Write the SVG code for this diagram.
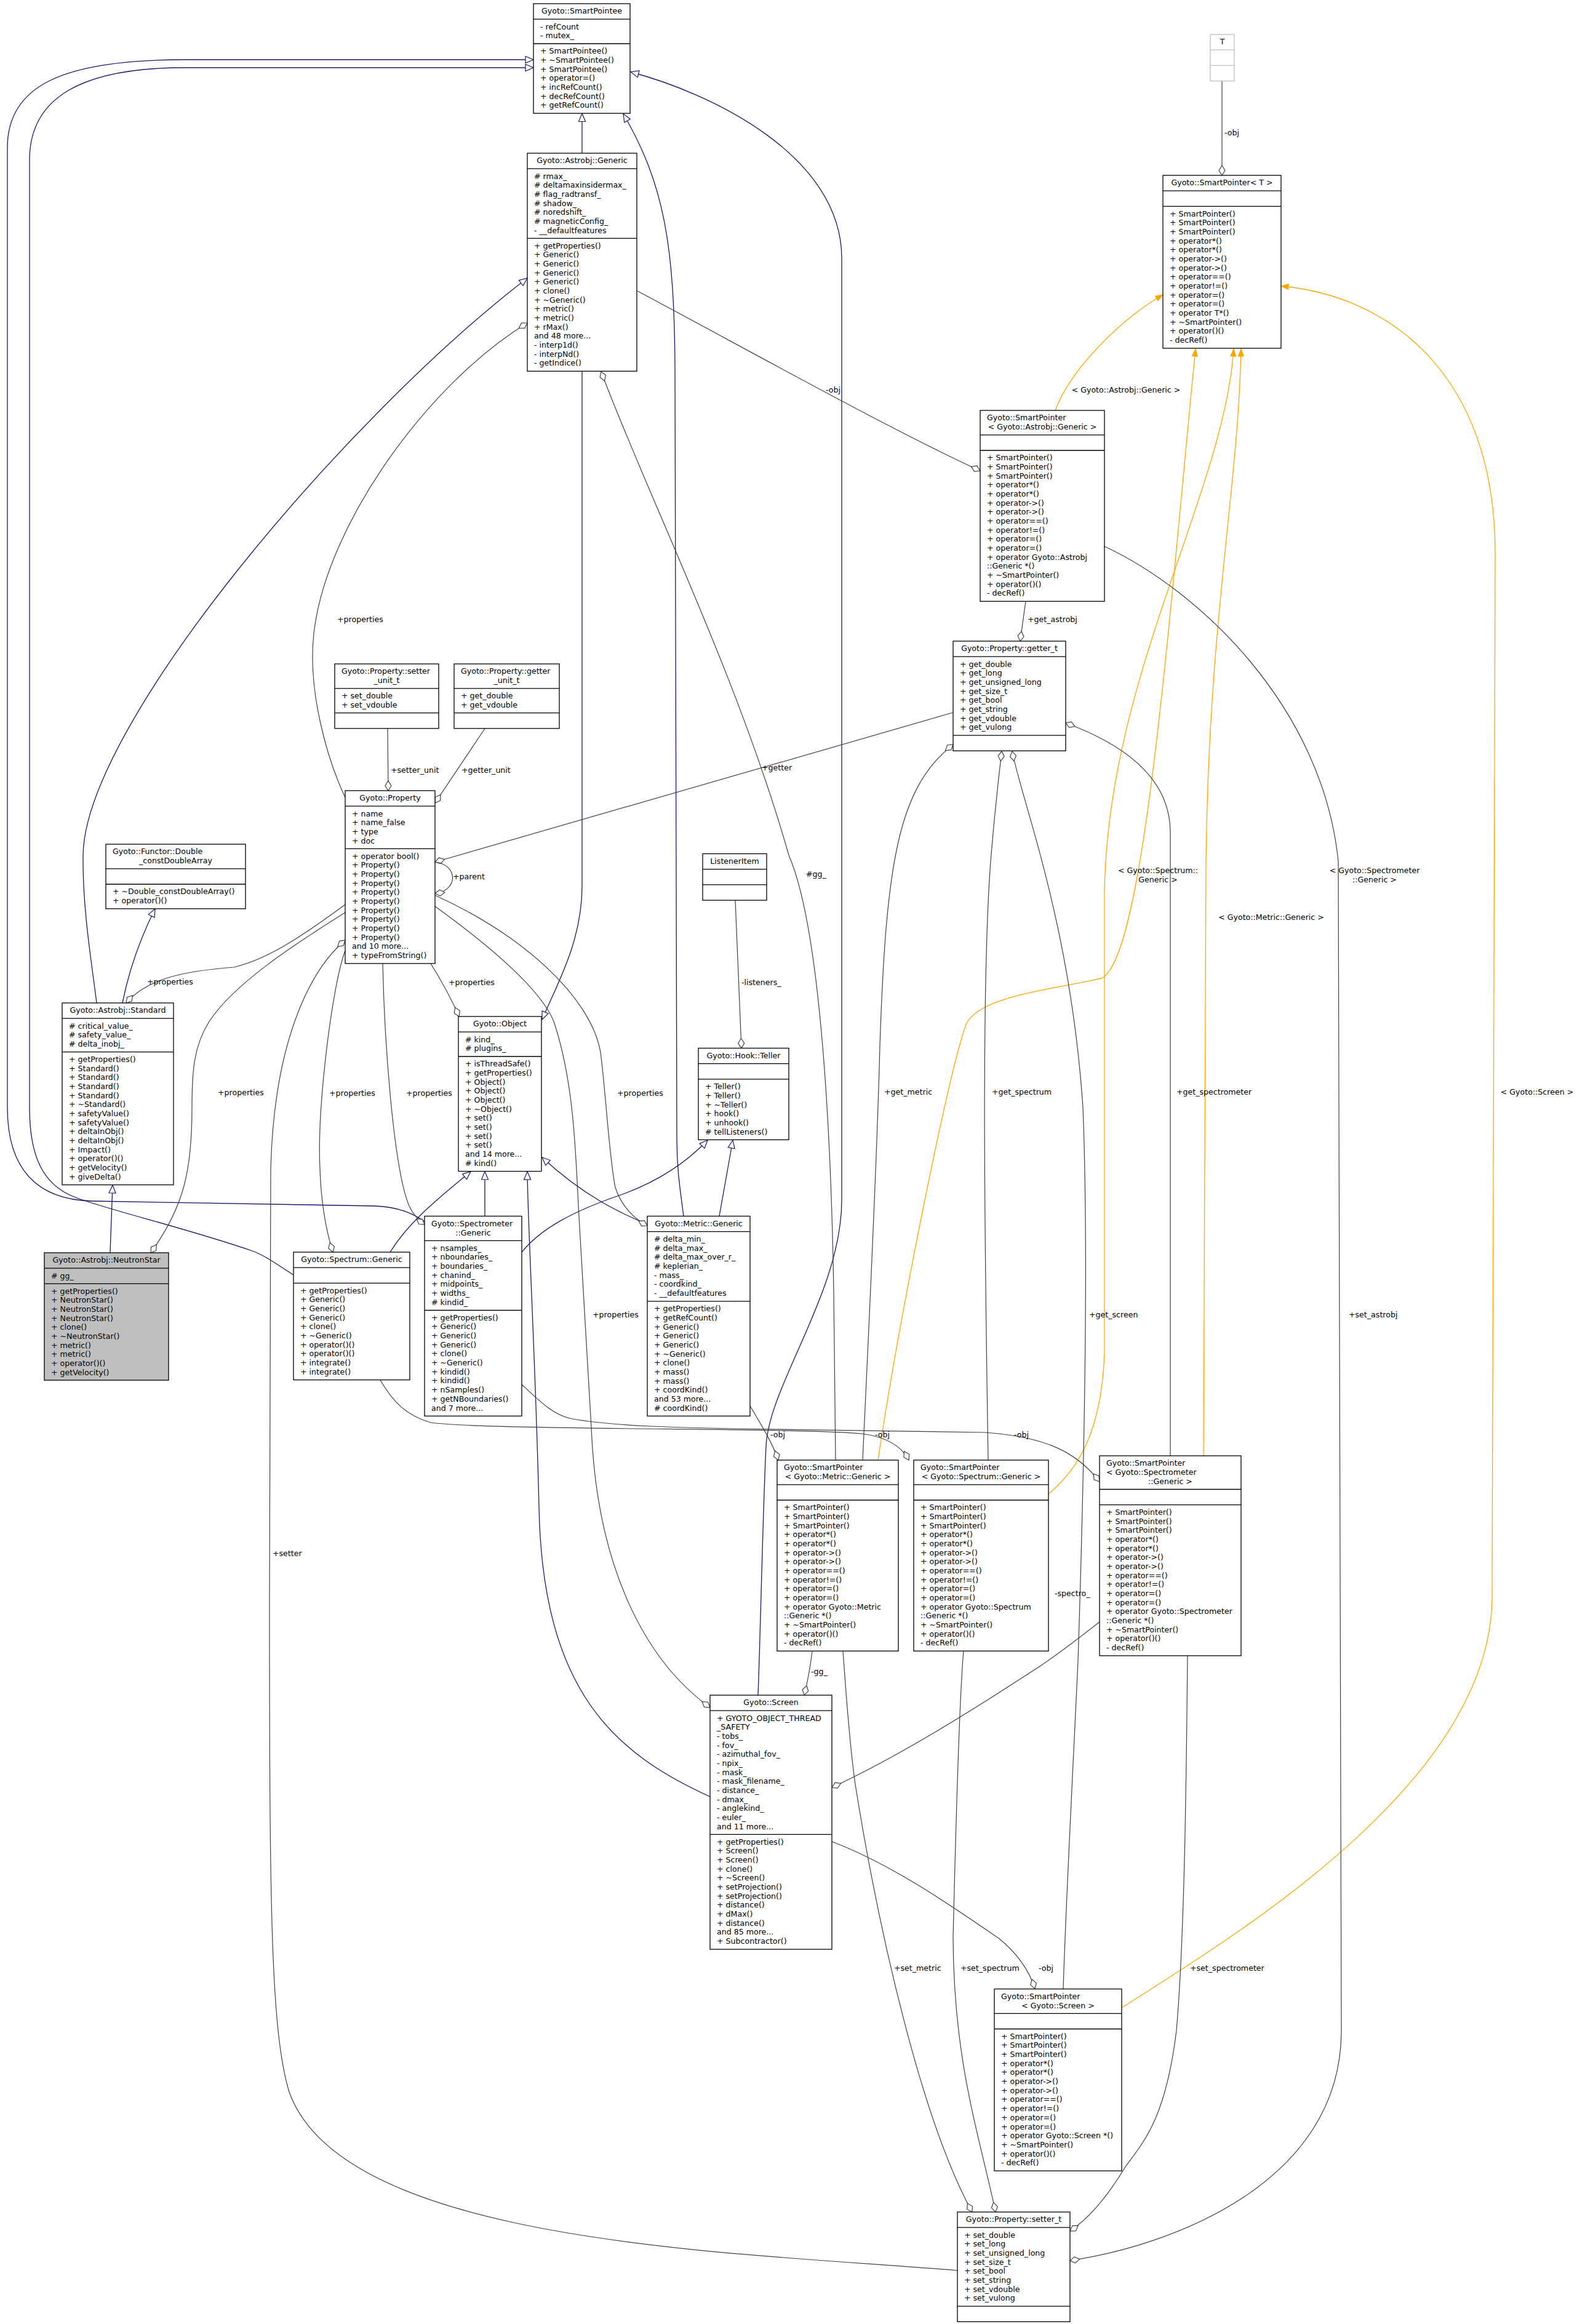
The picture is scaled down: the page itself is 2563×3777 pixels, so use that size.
<svg xmlns="http://www.w3.org/2000/svg" width="2563" height="3777" viewBox="0 0 2563 3777">
<style>
text{font-family:"DejaVu Sans",sans-serif;font-size:12.6px;fill:#000}
.c{text-anchor:middle}
.n rect{fill:#fff;stroke:#000;stroke-width:1.3}
.n line{stroke:#000;stroke-width:1.3}
.g rect{fill:#bfbfbf}
.gr rect,.gr line{stroke:#bfbfbf}
.e{fill:none;stroke:#404040;stroke-width:1.2}
.i{fill:none;stroke:#191970;stroke-width:1.3}
.t{fill:none;stroke:#ffa500;stroke-width:1.3}
</style>
<defs>
<marker id="mi" viewBox="0 0 15 13" refX="14" refY="6.5" markerWidth="15" markerHeight="13" markerUnits="userSpaceOnUse" orient="auto"><path d="M1,1 L14,6.5 L1,12 Z" fill="#fff" stroke="#191970" stroke-width="1.2"/></marker>
<marker id="ma" viewBox="0 0 18 12" refX="17" refY="6" markerWidth="18" markerHeight="12" markerUnits="userSpaceOnUse" orient="auto"><path d="M1,6 L9,1 L17,6 L9,11 Z" fill="#fff" stroke="#404040" stroke-width="1.2"/></marker>
<marker id="mt" viewBox="0 0 14 12" refX="13" refY="6" markerWidth="14" markerHeight="12" markerUnits="userSpaceOnUse" orient="auto"><path d="M1,1.5 L13,6 L1,10.5 Z" fill="#ffa500" stroke="#ffa500" stroke-width="1"/></marker>
</defs>
<rect width="2563" height="3777" fill="#fff"/>
<g id="edges">
<path class="i" marker-end="url(#mi)" d="M946,249 L946,184.5"/>
<path class="i" marker-end="url(#mi)" d="M157,1630 C150,1570 134,1480 135,1390 C137,1180 560,680 857,452"/>
<path class="i" marker-end="url(#mi)" d="M199,1630 C210,1575 228,1525 252,1477"/>
<path class="i" marker-end="url(#mi)" d="M179,2036 L183,1926"/>
<path class="i" marker-end="url(#mi)" d="M946,603 L946,1440 C946,1530 905,1600 881,1657"/>
<path class="i" marker-end="url(#mi)" d="M634,2035 C665,1985 710,1950 765,1904"/>
<path class="i" marker-end="url(#mi)" d="M788,1976.5 L788,1904"/>
<path class="i" marker-end="url(#mi)" d="M1052,1990 C1010,1972 950,1945 881,1881"/>
<path class="i" marker-end="url(#mi)" d="M1154,2920 C1000,2850 882,2750 876,2450 C870,2200 858,2000 857,1904"/>
<path class="i" marker-end="url(#mi)" d="M848,2035 C880,1995 935,1968 1000,1945 C1060,1925 1110,1895 1150,1853"/>
<path class="i" marker-end="url(#mi)" d="M1169,1976.5 L1191,1853"/>
<path class="i" marker-end="url(#mi)" d="M1111,1976.5 C1105,1930 1100,1900 1100,1850 L1097,600 C1096,400 1080,300 1013,185"/>
<path class="i" marker-end="url(#mi)" d="M1232,2755 C1236,2650 1240,2450 1245,2350 C1250,2250 1368,2100 1368,1950 L1368,420 C1368,250 1150,150 1025,117"/>
<path class="i" marker-end="url(#mi)" d="M477,2072 C450,2055 430,2040 410,2033 C300,1995 170,1965 120,1945 C70,1925 48,1880 48,1800 L48,260 C48,160 130,110 300,110 L867,110"/>
<path class="i" marker-end="url(#mi)" d="M690,1985 C670,1972 650,1962 610,1960 L150,1952 C60,1950 12,1900 12,1800 L12,240 C12,140 100,97 300,97 L867,97"/>
<path class="t" marker-end="url(#mt)" d="M1715,667 C1740,600 1820,520 1890,479"/>
<path class="t" marker-end="url(#mt)" d="M1427,2373 C1460,2150 1540,1750 1570,1665 C1590,1620 1700,1610 1790,1590 C1860,1560 1900,1000 1943,567"/>
<path class="t" marker-end="url(#mt)" d="M1704,2428 C1750,2390 1790,2330 1795,2200 L1795,1450 C1800,1100 1990,800 2005,567"/>
<path class="t" marker-end="url(#mt)" d="M1956,2366 C1960,2000 1958,1650 1960,1400 C1965,1000 2012,800 2017,567"/>
<path class="t" marker-end="url(#mt)" d="M1823,3263 C2000,3150 2420,2900 2425,2600 L2430,900 C2430,600 2250,480 2082,465"/>
<path class="e" marker-end="url(#ma)" d="M1986,131.6 L1986,285"/>
<path class="e" marker-end="url(#ma)" d="M1036,473 C1200,560 1450,700 1593,765"/>
<path class="e" marker-end="url(#ma)" d="M1667,977 L1658,1042"/>
<path class="e" marker-end="url(#ma)" d="M1549,1158 L707,1401"/>
<path class="e" marker-end="url(#ma)" d="M1556,3690 C1200,3660 560,3650 470,3400 C440,3300 438,3100 438,2600 L440,1900 C445,1700 500,1580 561,1528"/>
<path class="e" marker-end="url(#ma)" d="M630,1184 L631,1285"/>
<path class="e" marker-end="url(#ma)" d="M788,1184 L707,1305"/>
<path class="e" marker-end="url(#ma)" d="M707,1401 C745,1405 745,1448 707,1452"/>
<path class="e" marker-end="url(#ma)" d="M561,1296 C530,1230 500,1120 510,1030 C530,850 700,620 857,525"/>
<path class="e" marker-end="url(#ma)" d="M561,1470 C480,1530 430,1560 380,1572 C300,1578 240,1590 205,1630"/>
<path class="e" marker-end="url(#ma)" d="M561,1483 C470,1540 380,1600 340,1660 C315,1700 312,1740 312,1800 C312,1900 300,1960 245,2036"/>
<path class="e" marker-end="url(#ma)" d="M561,1545 C540,1600 515,1800 520,1900 C522,1960 530,2000 541,2035"/>
<path class="e" marker-end="url(#ma)" d="M622,1566 C625,1700 640,1900 665,1960 C672,1975 680,1983 690,1990"/>
<path class="e" marker-end="url(#ma)" d="M700,1566 C715,1590 730,1615 746,1652"/>
<path class="e" marker-end="url(#ma)" d="M707,1455 C850,1520 960,1620 976,1710 C985,1780 990,1880 1000,1930 C1010,1960 1030,1980 1052,1992"/>
<path class="e" marker-end="url(#ma)" d="M707,1473 C800,1540 880,1610 900,1660 C930,1750 935,1850 940,1960 L961,2320 C970,2550 1050,2700 1154,2775"/>
<path class="e" marker-end="url(#ma)" d="M1195,1463 L1205,1703.5"/>
<path class="e" marker-end="url(#ma)" d="M1358,2373 L1355,2100 C1350,1800 1330,1500 1282,1390 C1200,1100 1050,800 977,604"/>
<path class="e" marker-end="url(#ma)" d="M1219,2285 C1240,2320 1255,2345 1265,2373"/>
<path class="e" marker-end="url(#ma)" d="M618,2243 C640,2280 660,2300 700,2312 C800,2325 1300,2320 1400,2330 C1440,2335 1465,2350 1477,2373"/>
<path class="e" marker-end="url(#ma)" d="M848,2250 C880,2280 900,2300 930,2306 C1000,2318 1100,2320 1200,2322 L1600,2328 C1700,2335 1750,2360 1787,2408"/>
<path class="e" marker-end="url(#ma)" d="M1402,2373 C1410,2200 1425,1900 1430,1700 C1440,1400 1460,1280 1549,1210"/>
<path class="e" marker-end="url(#ma)" d="M1370,2683 C1375,2750 1380,2830 1390,2900 C1430,3150 1500,3450 1580,3595"/>
<path class="e" marker-end="url(#ma)" d="M1606,2373 C1600,2000 1595,1600 1610,1400 C1618,1300 1625,1250 1628,1221"/>
<path class="e" marker-end="url(#ma)" d="M1566,2683 C1560,2750 1555,2900 1549,3150 C1550,3350 1590,3464 1618,3595"/>
<path class="e" marker-end="url(#ma)" d="M1902,2366 L1902,1350 C1900,1250 1800,1200 1732,1175"/>
<path class="e" marker-end="url(#ma)" d="M1930,2691 C1928,2900 1925,3150 1912,3300 C1895,3440 1860,3480 1830,3520 C1800,3570 1770,3605 1739,3626"/>
<path class="e" marker-end="url(#ma)" d="M1728,3232 C1732,3100 1745,2850 1752,2700 C1765,2300 1768,2000 1760,1800 C1740,1500 1660,1300 1645,1221"/>
<path class="e" marker-end="url(#ma)" d="M1352,2993 C1450,3030 1550,3100 1623,3150 C1660,3180 1675,3210 1682,3232"/>
<path class="e" marker-end="url(#ma)" d="M1320,2683 C1317,2710 1312,2735 1307,2755"/>
<path class="e" marker-end="url(#ma)" d="M1787,2636 C1750,2665 1720,2688 1690,2708 C1580,2780 1460,2855 1352,2905"/>
<path class="e" marker-end="url(#ma)" d="M1795,888 C1950,960 2150,1150 2175,1400 L2180,3300 C2180,3550 1900,3650 1739,3674"/>
<text x="1990" y="220">-obj</text>
<text x="1342" y="638">-obj</text>
<text x="1670" y="1011">+get_astrobj</text>
<text x="1238" y="1252">+getter</text>
<text x="443" y="2529">+setter</text>
<text x="635" y="1256">+setter_unit</text>
<text x="750" y="1256">+getter_unit</text>
<text x="736" y="1429">+parent</text>
<text x="548" y="1011">+properties</text>
<text x="239" y="1600">+properties</text>
<text x="354" y="1780">+properties</text>
<text x="535" y="1781">+properties</text>
<text x="660" y="1781">+properties</text>
<text x="729" y="1601">+properties</text>
<text x="1003" y="1781">+properties</text>
<text x="963" y="2141">+properties</text>
<text x="1205" y="1601">-listeners_</text>
<text x="1310" y="1425">#gg_</text>
<text x="1252" y="2336">-obj</text>
<text x="1422" y="2336">-obj</text>
<text x="1648" y="2336">-obj</text>
<text x="1437" y="1779">+get_metric</text>
<text x="1453" y="3203">+set_metric</text>
<text x="1612" y="1779">+get_spectrum</text>
<text x="1561" y="3203">+set_spectrum</text>
<text x="1912" y="1779">+get_spectrometer</text>
<text x="1934" y="3203">+set_spectrometer</text>
<text x="1770" y="2141">+get_screen</text>
<text x="1688" y="3203">-obj</text>
<text x="1318" y="2721">-gg_</text>
<text x="1714" y="2594">-spectro_</text>
<text x="2192" y="2141">+set_astrobj</text>
<text class="c" x="1830" y="638">&lt; Gyoto::Astrobj::Generic &gt;</text>
<text class="c" x="1882" y="1419">&lt; Gyoto::Spectrum::</text>
<text class="c" x="1882" y="1434">Generic &gt;</text>
<text class="c" x="2066" y="1495">&lt; Gyoto::Metric::Generic &gt;</text>
<text class="c" x="2234" y="1419">&lt; Gyoto::Spectrometer</text>
<text class="c" x="2234" y="1434">::Generic &gt;</text>
<text class="c" x="2498" y="1779">&lt; Gyoto::Screen &gt;</text>
</g>
<g id="SmartPointee" class="n"><rect x="867" y="6" width="157" height="178.2"/><line x1="867" y1="31.2" x2="1024" y2="31.2"/><line x1="867" y1="71" x2="1024" y2="71"/>
<text class="c" x="945.5" y="22.3">Gyoto::SmartPointee</text>
<text x="878" y="47.5">- refCount<tspan x="878" dy="14.67">- mutex_</tspan></text>
<text x="878" y="87.3">+ SmartPointee()<tspan x="878" dy="14.67">+ ~SmartPointee()</tspan><tspan x="878" dy="14.67">+ SmartPointee()</tspan><tspan x="878" dy="14.67">+ operator=()</tspan><tspan x="878" dy="14.67">+ incRefCount()</tspan><tspan x="878" dy="14.67">+ decRefCount()</tspan><tspan x="878" dy="14.67">+ getRefCount()</tspan></text></g>
<g id="AstrobjGeneric" class="n"><rect x="857" y="249" width="178" height="354.3"/><line x1="857" y1="274.2" x2="1035" y2="274.2"/><line x1="857" y1="387.4" x2="1035" y2="387.4"/>
<text class="c" x="946" y="265.3">Gyoto::Astrobj::Generic</text>
<text x="868" y="290.5"># rmax_<tspan x="868" dy="14.67"># deltamaxinsidermax_</tspan><tspan x="868" dy="14.67"># flag_radtransf_</tspan><tspan x="868" dy="14.67"># shadow_</tspan><tspan x="868" dy="14.67"># noredshift_</tspan><tspan x="868" dy="14.67"># magneticConfig_</tspan><tspan x="868" dy="14.67">- __defaultfeatures</tspan></text>
<text x="868" y="403.7">+ getProperties()<tspan x="868" dy="14.67">+ Generic()</tspan><tspan x="868" dy="14.67">+ Generic()</tspan><tspan x="868" dy="14.67">+ Generic()</tspan><tspan x="868" dy="14.67">+ Generic()</tspan><tspan x="868" dy="14.67">+ clone()</tspan><tspan x="868" dy="14.67">+ ~Generic()</tspan><tspan x="868" dy="14.67">+ metric()</tspan><tspan x="868" dy="14.67">+ metric()</tspan><tspan x="868" dy="14.67">+ rMax()</tspan><tspan x="868" dy="14.67">and 48 more...</tspan><tspan x="868" dy="14.67">- interp1d()</tspan><tspan x="868" dy="14.67">- interpNd()</tspan><tspan x="868" dy="14.67">- getIndice()</tspan></text></g>
<g id="T" class="n gr"><rect x="1967" y="56" width="39" height="75.6"/><line x1="1967" y1="81.2" x2="2006" y2="81.2"/><line x1="1967" y1="106.4" x2="2006" y2="106.4"/>
<text class="c" x="1986.5" y="72.3">T</text></g>
<g id="SmartPointerT" class="n"><rect x="1890" y="285" width="192" height="281"/><line x1="1890" y1="310.2" x2="2082" y2="310.2"/><line x1="1890" y1="335.4" x2="2082" y2="335.4"/>
<text class="c" x="1986" y="301.3">Gyoto::SmartPointer&lt; T &gt;</text>
<text x="1901" y="351.7">+ SmartPointer()<tspan x="1901" dy="14.67">+ SmartPointer()</tspan><tspan x="1901" dy="14.67">+ SmartPointer()</tspan><tspan x="1901" dy="14.67">+ operator*()</tspan><tspan x="1901" dy="14.67">+ operator*()</tspan><tspan x="1901" dy="14.67">+ operator-&gt;()</tspan><tspan x="1901" dy="14.67">+ operator-&gt;()</tspan><tspan x="1901" dy="14.67">+ operator==()</tspan><tspan x="1901" dy="14.67">+ operator!=()</tspan><tspan x="1901" dy="14.67">+ operator=()</tspan><tspan x="1901" dy="14.67">+ operator=()</tspan><tspan x="1901" dy="14.67">+ operator T*()</tspan><tspan x="1901" dy="14.67">+ ~SmartPointer()</tspan><tspan x="1901" dy="14.67">+ operator()()</tspan><tspan x="1901" dy="14.67">- decRef()</tspan></text></g>
<g id="SPAstrobj" class="n"><rect x="1593" y="667" width="202" height="310.3"/><line x1="1593" y1="706.8" x2="1795" y2="706.8"/><line x1="1593" y1="732" x2="1795" y2="732"/>
<text x="1604" y="683.3">Gyoto::SmartPointer</text><text class="c" x="1694" y="698">&lt; Gyoto::Astrobj::Generic &gt;</text>
<text x="1604" y="748.3">+ SmartPointer()<tspan x="1604" dy="14.67">+ SmartPointer()</tspan><tspan x="1604" dy="14.67">+ SmartPointer()</tspan><tspan x="1604" dy="14.67">+ operator*()</tspan><tspan x="1604" dy="14.67">+ operator*()</tspan><tspan x="1604" dy="14.67">+ operator-&gt;()</tspan><tspan x="1604" dy="14.67">+ operator-&gt;()</tspan><tspan x="1604" dy="14.67">+ operator==()</tspan><tspan x="1604" dy="14.67">+ operator!=()</tspan><tspan x="1604" dy="14.67">+ operator=()</tspan><tspan x="1604" dy="14.67">+ operator=()</tspan><tspan x="1604" dy="14.67">+ operator Gyoto::Astrobj</tspan><tspan x="1604" dy="14.67">::Generic *()</tspan><tspan x="1604" dy="14.67">+ ~SmartPointer()</tspan><tspan x="1604" dy="14.67">+ operator()()</tspan><tspan x="1604" dy="14.67">- decRef()</tspan></text></g>
<g id="getter_t" class="n"><rect x="1549" y="1042" width="183" height="178.3"/><line x1="1549" y1="1067.2" x2="1732" y2="1067.2"/><line x1="1549" y1="1195.1" x2="1732" y2="1195.1"/>
<text class="c" x="1640.5" y="1058.3">Gyoto::Property::getter_t</text>
<text x="1560" y="1083.5">+ get_double<tspan x="1560" dy="14.67">+ get_long</tspan><tspan x="1560" dy="14.67">+ get_unsigned_long</tspan><tspan x="1560" dy="14.67">+ get_size_t</tspan><tspan x="1560" dy="14.67">+ get_bool</tspan><tspan x="1560" dy="14.67">+ get_string</tspan><tspan x="1560" dy="14.67">+ get_vdouble</tspan><tspan x="1560" dy="14.67">+ get_vulong</tspan></text></g>
<g id="setter_unit_t" class="n"><rect x="544" y="1079" width="169" height="104.9"/><line x1="544" y1="1118.8" x2="713" y2="1118.8"/><line x1="544" y1="1158.7" x2="713" y2="1158.7"/>
<text x="555" y="1095.3">Gyoto::Property::setter</text><text class="c" x="628.5" y="1110">_unit_t</text>
<text x="555" y="1135.1">+ set_double<tspan x="555" dy="14.67">+ set_vdouble</tspan></text></g>
<g id="getter_unit_t" class="n"><rect x="738" y="1079" width="171" height="104.9"/><line x1="738" y1="1118.8" x2="909" y2="1118.8"/><line x1="738" y1="1158.7" x2="909" y2="1158.7"/>
<text x="749" y="1095.3">Gyoto::Property::getter</text><text class="c" x="823.5" y="1110">_unit_t</text>
<text x="749" y="1135.1">+ get_double<tspan x="749" dy="14.67">+ get_vdouble</tspan></text></g>
<g id="Property" class="n"><rect x="561" y="1285" width="146" height="280.9"/><line x1="561" y1="1310.2" x2="707" y2="1310.2"/><line x1="561" y1="1379.4" x2="707" y2="1379.4"/>
<text class="c" x="634" y="1301.3">Gyoto::Property</text>
<text x="572" y="1326.5">+ name<tspan x="572" dy="14.67">+ name_false</tspan><tspan x="572" dy="14.67">+ type</tspan><tspan x="572" dy="14.67">+ doc</tspan></text>
<text x="572" y="1395.7">+ operator bool()<tspan x="572" dy="14.67">+ Property()</tspan><tspan x="572" dy="14.67">+ Property()</tspan><tspan x="572" dy="14.67">+ Property()</tspan><tspan x="572" dy="14.67">+ Property()</tspan><tspan x="572" dy="14.67">+ Property()</tspan><tspan x="572" dy="14.67">+ Property()</tspan><tspan x="572" dy="14.67">+ Property()</tspan><tspan x="572" dy="14.67">+ Property()</tspan><tspan x="572" dy="14.67">+ Property()</tspan><tspan x="572" dy="14.67">and 10 more...</tspan><tspan x="572" dy="14.67">+ typeFromString()</tspan></text></g>
<g id="Functor" class="n"><rect x="172" y="1372" width="227" height="104.9"/><line x1="172" y1="1411.8" x2="399" y2="1411.8"/><line x1="172" y1="1437" x2="399" y2="1437"/>
<text x="183" y="1388.3">Gyoto::Functor::Double</text><text class="c" x="285.5" y="1403">_constDoubleArray</text>
<text x="183" y="1453.3">+ ~Double_constDoubleArray()<tspan x="183" dy="14.67">+ operator()()</tspan></text></g>
<g id="Standard" class="n"><rect x="101" y="1630" width="181" height="295.6"/><line x1="101" y1="1655.2" x2="282" y2="1655.2"/><line x1="101" y1="1709.7" x2="282" y2="1709.7"/>
<text class="c" x="191.5" y="1646.3">Gyoto::Astrobj::Standard</text>
<text x="112" y="1671.5"># critical_value_<tspan x="112" dy="14.67"># safety_value_</tspan><tspan x="112" dy="14.67"># delta_inobj_</tspan></text>
<text x="112" y="1726">+ getProperties()<tspan x="112" dy="14.67">+ Standard()</tspan><tspan x="112" dy="14.67">+ Standard()</tspan><tspan x="112" dy="14.67">+ Standard()</tspan><tspan x="112" dy="14.67">+ Standard()</tspan><tspan x="112" dy="14.67">+ ~Standard()</tspan><tspan x="112" dy="14.67">+ safetyValue()</tspan><tspan x="112" dy="14.67">+ safetyValue()</tspan><tspan x="112" dy="14.67">+ deltaInObj()</tspan><tspan x="112" dy="14.67">+ deltaInObj()</tspan><tspan x="112" dy="14.67">+ Impact()</tspan><tspan x="112" dy="14.67">+ operator()()</tspan><tspan x="112" dy="14.67">+ getVelocity()</tspan><tspan x="112" dy="14.67">+ giveDelta()</tspan></text></g>
<g id="NeutronStar" class="n g"><rect x="72" y="2036" width="202" height="207.1"/><line x1="72" y1="2061.2" x2="274" y2="2061.2"/><line x1="72" y1="2086.4" x2="274" y2="2086.4"/>
<text class="c" x="173" y="2052.3">Gyoto::Astrobj::NeutronStar</text>
<text x="83" y="2077.5"># gg_</text>
<text x="83" y="2102.7">+ getProperties()<tspan x="83" dy="14.67">+ NeutronStar()</tspan><tspan x="83" dy="14.67">+ NeutronStar()</tspan><tspan x="83" dy="14.67">+ NeutronStar()</tspan><tspan x="83" dy="14.67">+ clone()</tspan><tspan x="83" dy="14.67">+ ~NeutronStar()</tspan><tspan x="83" dy="14.67">+ metric()</tspan><tspan x="83" dy="14.67">+ metric()</tspan><tspan x="83" dy="14.67">+ operator()()</tspan><tspan x="83" dy="14.67">+ getVelocity()</tspan></text></g>
<g id="ListenerItem" class="n"><rect x="1142" y="1387.5" width="104" height="75.6"/><line x1="1142" y1="1412.7" x2="1246" y2="1412.7"/><line x1="1142" y1="1437.9" x2="1246" y2="1437.9"/>
<text class="c" x="1194" y="1403.8">ListenerItem</text></g>
<g id="Teller" class="n"><rect x="1135" y="1703.5" width="147" height="148.9"/><line x1="1135" y1="1728.7" x2="1282" y2="1728.7"/><line x1="1135" y1="1753.9" x2="1282" y2="1753.9"/>
<text class="c" x="1208.5" y="1719.8">Gyoto::Hook::Teller</text>
<text x="1146" y="1770.2">+ Teller()<tspan x="1146" dy="14.67">+ Teller()</tspan><tspan x="1146" dy="14.67">+ ~Teller()</tspan><tspan x="1146" dy="14.67">+ hook()</tspan><tspan x="1146" dy="14.67">+ unhook()</tspan><tspan x="1146" dy="14.67"># tellListeners()</tspan></text></g>
<g id="Object" class="n"><rect x="745" y="1652" width="135" height="251.6"/><line x1="745" y1="1677.2" x2="880" y2="1677.2"/><line x1="745" y1="1717" x2="880" y2="1717"/>
<text class="c" x="812.5" y="1668.3">Gyoto::Object</text>
<text x="756" y="1693.5"># kind_<tspan x="756" dy="14.67"># plugins_</tspan></text>
<text x="756" y="1733.3">+ isThreadSafe()<tspan x="756" dy="14.67">+ getProperties()</tspan><tspan x="756" dy="14.67">+ Object()</tspan><tspan x="756" dy="14.67">+ Object()</tspan><tspan x="756" dy="14.67">+ Object()</tspan><tspan x="756" dy="14.67">+ ~Object()</tspan><tspan x="756" dy="14.67">+ set()</tspan><tspan x="756" dy="14.67">+ set()</tspan><tspan x="756" dy="14.67">+ set()</tspan><tspan x="756" dy="14.67">+ set()</tspan><tspan x="756" dy="14.67">and 14 more...</tspan><tspan x="756" dy="14.67"># kind()</tspan></text></g>
<g id="SpectrumGeneric" class="n"><rect x="477" y="2035" width="189" height="207.6"/><line x1="477" y1="2060.2" x2="666" y2="2060.2"/><line x1="477" y1="2085.4" x2="666" y2="2085.4"/>
<text class="c" x="571.5" y="2051.3">Gyoto::Spectrum::Generic</text>
<text x="488" y="2101.7">+ getProperties()<tspan x="488" dy="14.67">+ Generic()</tspan><tspan x="488" dy="14.67">+ Generic()</tspan><tspan x="488" dy="14.67">+ Generic()</tspan><tspan x="488" dy="14.67">+ clone()</tspan><tspan x="488" dy="14.67">+ ~Generic()</tspan><tspan x="488" dy="14.67">+ operator()()</tspan><tspan x="488" dy="14.67">+ operator()()</tspan><tspan x="488" dy="14.67">+ integrate()</tspan><tspan x="488" dy="14.67">+ integrate()</tspan></text></g>
<g id="SpectrometerGeneric" class="n"><rect x="690" y="1976.5" width="158" height="324.9"/><line x1="690" y1="2016.3" x2="848" y2="2016.3"/><line x1="690" y1="2129.5" x2="848" y2="2129.5"/>
<text x="701" y="1992.8">Gyoto::Spectrometer</text><text class="c" x="769" y="2007.5">::Generic</text>
<text x="701" y="2032.6">+ nsamples_<tspan x="701" dy="14.67">+ nboundaries_</tspan><tspan x="701" dy="14.67">+ boundaries_</tspan><tspan x="701" dy="14.67">+ chanind_</tspan><tspan x="701" dy="14.67">+ midpoints_</tspan><tspan x="701" dy="14.67">+ widths_</tspan><tspan x="701" dy="14.67"># kindid_</tspan></text>
<text x="701" y="2145.8">+ getProperties()<tspan x="701" dy="14.67">+ Generic()</tspan><tspan x="701" dy="14.67">+ Generic()</tspan><tspan x="701" dy="14.67">+ Generic()</tspan><tspan x="701" dy="14.67">+ clone()</tspan><tspan x="701" dy="14.67">+ ~Generic()</tspan><tspan x="701" dy="14.67">+ kindid()</tspan><tspan x="701" dy="14.67">+ kindid()</tspan><tspan x="701" dy="14.67">+ nSamples()</tspan><tspan x="701" dy="14.67">+ getNBoundaries()</tspan><tspan x="701" dy="14.67">and 7 more...</tspan></text></g>
<g id="MetricGeneric" class="n"><rect x="1052" y="1976.5" width="167" height="324.9"/><line x1="1052" y1="2001.7" x2="1219" y2="2001.7"/><line x1="1052" y1="2114.9" x2="1219" y2="2114.9"/>
<text class="c" x="1135.5" y="1992.8">Gyoto::Metric::Generic</text>
<text x="1063" y="2018"># delta_min_<tspan x="1063" dy="14.67"># delta_max_</tspan><tspan x="1063" dy="14.67"># delta_max_over_r_</tspan><tspan x="1063" dy="14.67"># keplerian_</tspan><tspan x="1063" dy="14.67">- mass_</tspan><tspan x="1063" dy="14.67">- coordkind_</tspan><tspan x="1063" dy="14.67">- __defaultfeatures</tspan></text>
<text x="1063" y="2131.2">+ getProperties()<tspan x="1063" dy="14.67">+ getRefCount()</tspan><tspan x="1063" dy="14.67">+ Generic()</tspan><tspan x="1063" dy="14.67">+ Generic()</tspan><tspan x="1063" dy="14.67">+ Generic()</tspan><tspan x="1063" dy="14.67">+ ~Generic()</tspan><tspan x="1063" dy="14.67">+ clone()</tspan><tspan x="1063" dy="14.67">+ mass()</tspan><tspan x="1063" dy="14.67">+ mass()</tspan><tspan x="1063" dy="14.67">+ coordKind()</tspan><tspan x="1063" dy="14.67">and 53 more...</tspan><tspan x="1063" dy="14.67"># coordKind()</tspan></text></g>
<g id="SPMetric" class="n"><rect x="1263" y="2373" width="197" height="310.3"/><line x1="1263" y1="2412.8" x2="1460" y2="2412.8"/><line x1="1263" y1="2438" x2="1460" y2="2438"/>
<text x="1274" y="2389.3">Gyoto::SmartPointer</text><text class="c" x="1361.5" y="2404">&lt; Gyoto::Metric::Generic &gt;</text>
<text x="1274" y="2454.3">+ SmartPointer()<tspan x="1274" dy="14.67">+ SmartPointer()</tspan><tspan x="1274" dy="14.67">+ SmartPointer()</tspan><tspan x="1274" dy="14.67">+ operator*()</tspan><tspan x="1274" dy="14.67">+ operator*()</tspan><tspan x="1274" dy="14.67">+ operator-&gt;()</tspan><tspan x="1274" dy="14.67">+ operator-&gt;()</tspan><tspan x="1274" dy="14.67">+ operator==()</tspan><tspan x="1274" dy="14.67">+ operator!=()</tspan><tspan x="1274" dy="14.67">+ operator=()</tspan><tspan x="1274" dy="14.67">+ operator=()</tspan><tspan x="1274" dy="14.67">+ operator Gyoto::Metric</tspan><tspan x="1274" dy="14.67">::Generic *()</tspan><tspan x="1274" dy="14.67">+ ~SmartPointer()</tspan><tspan x="1274" dy="14.67">+ operator()()</tspan><tspan x="1274" dy="14.67">- decRef()</tspan></text></g>
<g id="SPSpectrum" class="n"><rect x="1485" y="2373" width="219" height="310.3"/><line x1="1485" y1="2412.8" x2="1704" y2="2412.8"/><line x1="1485" y1="2438" x2="1704" y2="2438"/>
<text x="1496" y="2389.3">Gyoto::SmartPointer</text><text class="c" x="1594.5" y="2404">&lt; Gyoto::Spectrum::Generic &gt;</text>
<text x="1496" y="2454.3">+ SmartPointer()<tspan x="1496" dy="14.67">+ SmartPointer()</tspan><tspan x="1496" dy="14.67">+ SmartPointer()</tspan><tspan x="1496" dy="14.67">+ operator*()</tspan><tspan x="1496" dy="14.67">+ operator*()</tspan><tspan x="1496" dy="14.67">+ operator-&gt;()</tspan><tspan x="1496" dy="14.67">+ operator-&gt;()</tspan><tspan x="1496" dy="14.67">+ operator==()</tspan><tspan x="1496" dy="14.67">+ operator!=()</tspan><tspan x="1496" dy="14.67">+ operator=()</tspan><tspan x="1496" dy="14.67">+ operator=()</tspan><tspan x="1496" dy="14.67">+ operator Gyoto::Spectrum</tspan><tspan x="1496" dy="14.67">::Generic *()</tspan><tspan x="1496" dy="14.67">+ ~SmartPointer()</tspan><tspan x="1496" dy="14.67">+ operator()()</tspan><tspan x="1496" dy="14.67">- decRef()</tspan></text></g>
<g id="SPSpectrometer" class="n"><rect x="1787" y="2366" width="230" height="324.9"/><line x1="1787" y1="2420.5" x2="2017" y2="2420.5"/><line x1="1787" y1="2445.7" x2="2017" y2="2445.7"/>
<text x="1798" y="2382.3">Gyoto::SmartPointer</text><text x="1798" y="2397">&lt; Gyoto::Spectrometer</text><text class="c" x="1902" y="2411.6">::Generic &gt;</text>
<text x="1798" y="2462">+ SmartPointer()<tspan x="1798" dy="14.67">+ SmartPointer()</tspan><tspan x="1798" dy="14.67">+ SmartPointer()</tspan><tspan x="1798" dy="14.67">+ operator*()</tspan><tspan x="1798" dy="14.67">+ operator*()</tspan><tspan x="1798" dy="14.67">+ operator-&gt;()</tspan><tspan x="1798" dy="14.67">+ operator-&gt;()</tspan><tspan x="1798" dy="14.67">+ operator==()</tspan><tspan x="1798" dy="14.67">+ operator!=()</tspan><tspan x="1798" dy="14.67">+ operator=()</tspan><tspan x="1798" dy="14.67">+ operator=()</tspan><tspan x="1798" dy="14.67">+ operator Gyoto::Spectrometer</tspan><tspan x="1798" dy="14.67">::Generic *()</tspan><tspan x="1798" dy="14.67">+ ~SmartPointer()</tspan><tspan x="1798" dy="14.67">+ operator()()</tspan><tspan x="1798" dy="14.67">- decRef()</tspan></text></g>
<g id="Screen" class="n"><rect x="1154" y="2755" width="198" height="413"/><line x1="1154" y1="2780.2" x2="1352" y2="2780.2"/><line x1="1154" y1="2981.4" x2="1352" y2="2981.4"/>
<text class="c" x="1253" y="2771.3">Gyoto::Screen</text>
<text x="1165" y="2796.5">+ GYOTO_OBJECT_THREAD<tspan x="1165" dy="14.67">_SAFETY</tspan><tspan x="1165" dy="14.67">- tobs_</tspan><tspan x="1165" dy="14.67">- fov_</tspan><tspan x="1165" dy="14.67">- azimuthal_fov_</tspan><tspan x="1165" dy="14.67">- npix_</tspan><tspan x="1165" dy="14.67">- mask_</tspan><tspan x="1165" dy="14.67">- mask_filename_</tspan><tspan x="1165" dy="14.67">- distance_</tspan><tspan x="1165" dy="14.67">- dmax_</tspan><tspan x="1165" dy="14.67">- anglekind_</tspan><tspan x="1165" dy="14.67">- euler_</tspan><tspan x="1165" dy="14.67">and 11 more...</tspan></text>
<text x="1165" y="2997.7">+ getProperties()<tspan x="1165" dy="14.67">+ Screen()</tspan><tspan x="1165" dy="14.67">+ Screen()</tspan><tspan x="1165" dy="14.67">+ clone()</tspan><tspan x="1165" dy="14.67">+ ~Screen()</tspan><tspan x="1165" dy="14.67">+ setProjection()</tspan><tspan x="1165" dy="14.67">+ setProjection()</tspan><tspan x="1165" dy="14.67">+ distance()</tspan><tspan x="1165" dy="14.67">+ dMax()</tspan><tspan x="1165" dy="14.67">+ distance()</tspan><tspan x="1165" dy="14.67">and 85 more...</tspan><tspan x="1165" dy="14.67">+ Subcontractor()</tspan></text></g>
<g id="SPScreen" class="n"><rect x="1616" y="3232.5" width="207" height="295.6"/><line x1="1616" y1="3272.3" x2="1823" y2="3272.3"/><line x1="1616" y1="3297.5" x2="1823" y2="3297.5"/>
<text x="1627" y="3248.8">Gyoto::SmartPointer</text><text class="c" x="1719.5" y="3263.5">&lt; Gyoto::Screen &gt;</text>
<text x="1627" y="3313.8">+ SmartPointer()<tspan x="1627" dy="14.67">+ SmartPointer()</tspan><tspan x="1627" dy="14.67">+ SmartPointer()</tspan><tspan x="1627" dy="14.67">+ operator*()</tspan><tspan x="1627" dy="14.67">+ operator*()</tspan><tspan x="1627" dy="14.67">+ operator-&gt;()</tspan><tspan x="1627" dy="14.67">+ operator-&gt;()</tspan><tspan x="1627" dy="14.67">+ operator==()</tspan><tspan x="1627" dy="14.67">+ operator!=()</tspan><tspan x="1627" dy="14.67">+ operator=()</tspan><tspan x="1627" dy="14.67">+ operator=()</tspan><tspan x="1627" dy="14.67">+ operator Gyoto::Screen *()</tspan><tspan x="1627" dy="14.67">+ ~SmartPointer()</tspan><tspan x="1627" dy="14.67">+ operator()()</tspan><tspan x="1627" dy="14.67">- decRef()</tspan></text></g>
<g id="setter_t" class="n"><rect x="1556" y="3595" width="183" height="178.3"/><line x1="1556" y1="3620.2" x2="1739" y2="3620.2"/><line x1="1556" y1="3748.1" x2="1739" y2="3748.1"/>
<text class="c" x="1647.5" y="3611.3">Gyoto::Property::setter_t</text>
<text x="1567" y="3636.5">+ set_double<tspan x="1567" dy="14.67">+ set_long</tspan><tspan x="1567" dy="14.67">+ set_unsigned_long</tspan><tspan x="1567" dy="14.67">+ set_size_t</tspan><tspan x="1567" dy="14.67">+ set_bool</tspan><tspan x="1567" dy="14.67">+ set_string</tspan><tspan x="1567" dy="14.67">+ set_vdouble</tspan><tspan x="1567" dy="14.67">+ set_vulong</tspan></text></g>
</svg>
